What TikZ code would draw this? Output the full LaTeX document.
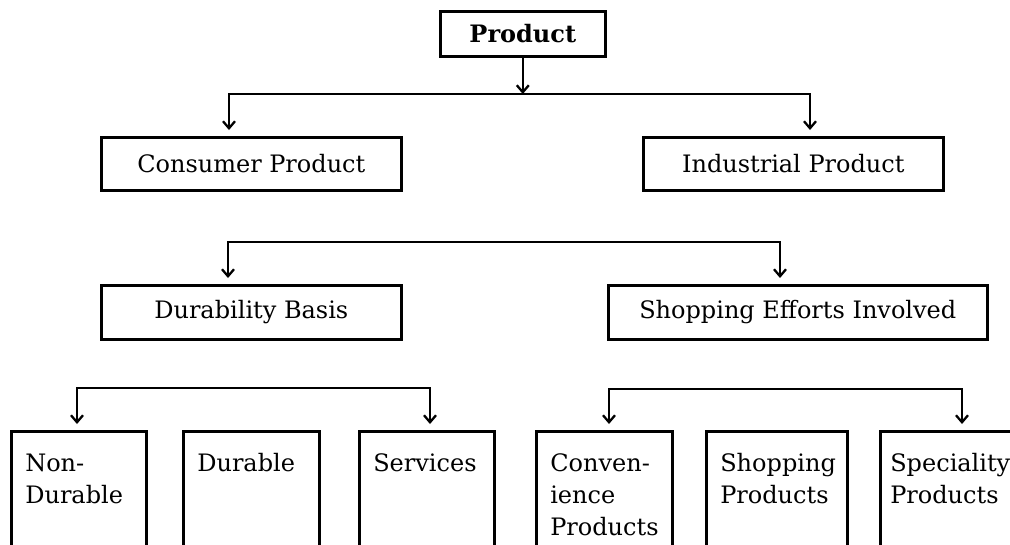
\documentclass[tikz,border=0pt]{standalone}
\usepackage{fontspec}
\setmainfont{DejaVu Serif}
\usepackage{tikz}
\usetikzlibrary{arrows.meta}
\tikzset{main node/.style={draw,line width=2.6pt,inner sep=0pt,anchor=north west,font=\fontsize{24}{32}\selectfont},
            leaf node/.style={draw,line width=2.6pt,anchor=north west,inner xsep=14pt,inner ysep=0pt,align=left,
                text height=40pt,text depth=100pt,font=\fontsize{24}{32}\selectfont},
            arr/.style={line width=2.3pt,-{Straight Barb[length=7pt,width=12pt,line width=2.3pt]}},
            fork/.style={line width=2.3pt,{Straight Barb[length=7pt,width=12pt,line width=2.3pt]}-{Straight Barb[length=7pt,width=12pt,line width=2.3pt]},
                shorten <=6pt,shorten >=6pt}
            }

\begin{document}
\begin{tikzpicture}[x=1pt,y=-1pt]
    \useasboundingbox (0,0) rectangle (1010,544);
    \clip (0,0) rectangle (1010,544);
    \node[main node,minimum width=165pt,minimum height=45pt,font=\fontsize{24}{32}\selectfont\bfseries] (1) at (439,10) {Product};
    \node[main node,minimum width=300pt,minimum height=53pt] (2) at (100,136) {Consumer Product};
    \node[main node,minimum width=300pt,minimum height=53pt] (3) at (642,136) {Industrial Product};
    \node[main node,minimum width=300pt,minimum height=54pt] (4) at (100,284) {Durability Basis};
    \node[main node,minimum width=379pt,minimum height=54pt] (5) at (607,284) {Shopping Efforts Involved};
    \node[leaf node,text width=107pt] (6) at (10,430) {Non-\\Durable};
    \node[leaf node,text width=108pt] (7) at (182,430) {Durable};
    \node[leaf node,text width=107pt] (8) at (358,430) {Services};
    \node[leaf node,text width=108pt] (9) at (535,430) {Conven-\\ience\\Products};
    \node[leaf node,text width=113pt] (10) at (705,430) {Shopping\\Products};
    \node[leaf node,text width=116pt,inner xsep=10pt] (11) at (879,430) {Speciality\\Products};

    \coordinate (a) at (229,94);
    \coordinate (b) at (810,94);
    \coordinate (c) at (228,242);
    \coordinate (d) at (780,242);
    \coordinate (e) at (77,388);
    \coordinate (f) at (430,388);
    \coordinate (g) at (609,389);
    \coordinate (h) at (962,389);

    \draw[arr] (1) -- (1 |- a);
    \draw[fork] (a |- 2.north) -- (a) -- (b) -- (b |- 3.north);
    \draw[fork] (c |- 4.north) -- (c) -- (d) -- (d |- 5.north);
    \draw[fork] (e |- 6.north) -- (e) -- (f) -- (f |- 8.north);
    \draw[fork] (g |- 9.north) -- (g) -- (h) -- (h |- 11.north);
    %%
\end{tikzpicture}
\end{document}
